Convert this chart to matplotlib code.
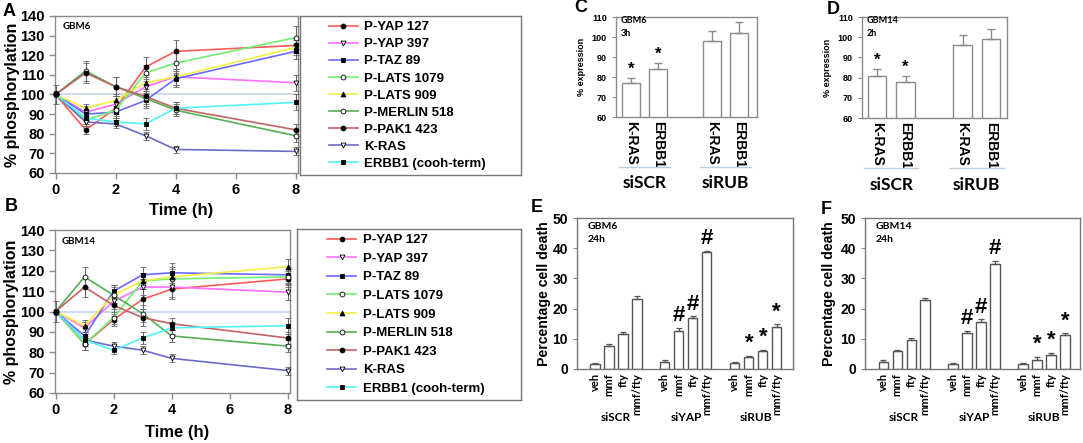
import matplotlib
matplotlib.use("Agg")
import matplotlib.pyplot as plt
import matplotlib.transforms as mtransforms
from matplotlib.lines import Line2D

plt.rcParams['font.family'] = ['Liberation Sans', 'DejaVu Sans']
plt.rcParams['font.weight'] = 'bold'
plt.rcParams['axes.labelweight'] = 'bold'

# ---------------- data ----------------
time_h = [0, 1, 2, 3, 4, 8]
series_labels = ['P-YAP 127', 'P-YAP 397', 'P-TAZ 89', 'P-LATS 1079', 'P-LATS 909',
                 'P-MERLIN 518', 'P-PAK1 423', 'K-RAS', 'ERBB1 (cooh-term)']

# Panel A  (GBM6)
a_yap127 = [100, 82, 93, 114, 122, 125]
a_yap397 = [100, 91, 95, 104, 109, 106]
a_taz89 = [100, 90, 91, 97, 108, 122]
a_lats1079 = [100, 87, 92, 111, 116, 129]
a_lats909 = [100, 93, 97, 106, 109, 124]
a_merlin518 = [100, 112, 104, 98, 92, 79]
a_pak1423 = [100, 111, 104, 99, 93, 82]
a_kras = [100, 86, 85, 79, 72, 71]
a_erbb1 = [100, 88, 86, 85, 93, 96]
a_errors = [[5, 2, 3, 5, 6, 4], [0, 3, 4, 4, 4, 4], [0, 2, 3, 4, 4, 4],
            [0, 2, 3, 4, 5, 6], [0, 2, 3, 4, 4, 4], [0, 5, 5, 4, 3, 3],
            [0, 5, 5, 4, 3, 3], [0, 2, 2, 2, 2, 2], [0, 3, 2, 3, 3, 4]]

# Panel B  (GBM14)
b_yap127 = [100, 84, 96, 106, 111, 116]
b_yap397 = [100, 92, 105, 112, 112, 109.5]
b_taz89 = [100, 88, 110, 118, 119, 118]
b_lats1079 = [100, 84, 97, 115, 116, 117]
b_lats909 = [100, 93, 108, 115, 117, 122]
b_merlin518 = [100, 117, 108, 99, 88, 83]
b_pak1423 = [100, 112, 103, 97, 94, 87]
b_kras = [100, 86, 83, 81, 77, 71]
b_erbb1 = [100, 86, 81, 87, 92, 93]
b_errors = [[5, 3, 3, 5, 5, 4], [0, 3, 4, 4, 5, 4], [0, 2, 3, 4, 5, 4],
            [0, 3, 3, 4, 5, 4], [0, 3, 4, 4, 5, 4], [0, 5, 5, 4, 3, 3],
            [0, 5, 5, 4, 3, 3], [0, 2, 2, 2, 2, 2], [0, 3, 2, 3, 3, 4]]

# Panels C / D  (% expression)
cd_labels = ['K-RAS', 'ERBB1', 'K-RAS', 'ERBB1']
cd_groups = ['siSCR', 'siRUB']
c_values = [77, 84, 98, 102]
c_err = [2.5, 3, 5, 5.5]
c_marks = ['*', '*', '', '']
d_values = [81, 78, 96, 99]
d_err = [3.5, 3, 5, 5]
d_marks = ['*', '*', '', '']

# Panels E / F  (percentage cell death)
ef_labels = ['veh', 'mmf', 'fty', 'mmf/fty'] * 3
ef_groups = ['siSCR', 'siYAP', 'siRUB']
e_values = [1.5, 7.7, 11.6, 23.3, 2.4, 12.7, 16.9, 38.7, 1.9, 3.9, 5.8, 14.0]
e_err = [0.5, 0.6, 0.6, 1.0, 0.5, 1.0, 0.5, 0.5, 0.4, 0.5, 0.5, 0.8]
f_values = [2.4, 5.8, 9.6, 22.9, 1.5, 11.9, 15.4, 34.8, 1.5, 3.1, 4.8, 11.4]
f_err = [0.5, 0.5, 0.6, 0.5, 0.5, 0.8, 1.0, 1.0, 0.4, 0.9, 0.5, 0.5]
ef_marks = ['', '', '', '', '', '#', '#', '#', '', '*', '*', '*']

# ---------------- styles ----------------
colors = ['#ff5a5a', '#ff70ff', '#6a6aff', '#70f070', '#f4f040', '#55b055',
          '#c06464', '#6c6cc8', '#50f5f5']
markers = ['o', 'v', 's', 'o', '^', 'o', 'o', 'v', 's']
mfaces = ['black', 'white', 'black', 'white', 'black', 'white', 'black', 'white', 'black']
SPINE = '#8a8a8a'
CAL = ['Lato', 'DejaVu Sans']

W, H = 1083, 443
fig = plt.figure(figsize=(W / 100, H / 100), dpi=100)


def box(l, t, r, b):
    return [l / W, 1 - b / H, (r - l) / W, (b - t) / H]


def ftext(x, y, s, **kw):
    fig.text(x / W, 1 - y / H, s, **kw)


def style_spines(ax, color=SPINE):
    for sp in ax.spines.values():
        sp.set_color(color)
        sp.set_linewidth(1)


def line_panel(rect, lrect, series, errors, tag, xlabel_y, ylabel_x, lspacing, lx):
    ax = fig.add_axes(box(*rect))
    ax.axhline(100, color='#c9d7ec', lw=1.3, zorder=0)
    for vals, err, col, mk, fc in zip(series, errors, colors, markers, mfaces):
        ax.errorbar(time_h, vals, yerr=err, color=col, lw=1.2, marker=mk, ms=3.5,
                    mfc=fc, mec='black', mew=0.6, ecolor='#666666', elinewidth=0.8,
                    capsize=2, capthick=0.8, clip_on=False, zorder=3)
    ax.set_xlim(-0.02, 8.08)
    ax.set_ylim(60, 140)
    ax.set_xticks([0, 2, 4, 6, 8])
    ax.set_yticks(range(60, 141, 10))
    ax.tick_params(labelsize=10.5, color=SPINE, length=4, width=1)
    style_spines(ax)
    ax.set_ylabel('% phosphorylation', fontsize=11.5)
    ax.yaxis.set_label_coords(ylabel_x, 0.5)
    ax.set_xlabel('Time (h)', fontsize=12)
    ax.xaxis.set_label_coords(0.52, xlabel_y)
    ax.text(0.03, 0.93, tag, transform=ax.transAxes, fontsize=7, family=CAL,
            fontweight='bold', va='center', ha='left')

    lax = fig.add_axes(box(*lrect))
    lax.set_xticks([])
    lax.set_yticks([])
    style_spines(lax, '#777777')
    handles = [Line2D([], [], color=c, lw=1.2, marker=m, ms=3.5, mfc=f, mec='black', mew=0.6)
               for c, m, f in zip(colors, markers, mfaces)]
    lax.legend(handles, series_labels, loc='center left', bbox_to_anchor=(lx, 0.5),
               frameon=False, prop={'size': 9.5, 'weight': 'bold'}, handlelength=2.2,
               handletextpad=0.5, labelspacing=lspacing, borderpad=0, borderaxespad=0)
    return ax


line_panel((55, 16, 298, 173), (300, 16, 521, 175),
           [a_yap127, a_yap397, a_taz89, a_lats1079, a_lats909, a_merlin518, a_pak1423, a_kras, a_erbb1],
           a_errors, 'GBM6', -0.19, -0.145, 0.37, 0.13)
line_panel((55, 230, 290, 393), (297, 229, 521, 400),
           [b_yap127, b_yap397, b_taz89, b_lats1079, b_lats909, b_merlin518, b_pak1423, b_kras, b_erbb1],
           b_errors, 'GBM14', -0.196, -0.155, 0.48, 0.135)


def expr_panel(rect, values, err, marks, tag1, tag2, xlim):
    ax = fig.add_axes(box(*rect))
    pos = [0, 1, 3, 4]
    ax.bar(pos, values, width=0.64, color='white', edgecolor='#8c8c8c', lw=1, zorder=2)
    ax.errorbar(pos, values, yerr=[[0] * len(err), err], fmt='none', ecolor='#8c8c8c',
                elinewidth=1, capsize=3, capthick=1, zorder=3)
    for p, v, e, m in zip(pos, values, err, marks):
        if m:
            ax.text(p, v + e + 0.5, m, ha='center', va='bottom', fontsize=12, fontweight='bold')
    ax.set_xlim(*xlim)
    ax.set_ylim(60, 110)
    ax.set_yticks(range(60, 111, 10))
    ax.set_xticks(pos)
    ax.set_xticklabels(cd_labels, rotation=270, fontsize=10, fontweight='bold')
    ax.tick_params(axis='x', length=0, pad=3)
    ax.tick_params(axis='y', labelsize=6.5, color=SPINE, length=3)
    style_spines(ax)
    ax.set_ylabel('% expression', fontsize=6.5)
    ax.yaxis.set_label_coords(-0.21, 0.5)
    ax.text(0.03, 0.9, tag1 + '\n' + tag2, transform=ax.transAxes, fontsize=6.5, family=CAL,
            fontweight='bold', va='center', ha='left', linespacing=1.5)
    tr = mtransforms.blended_transform_factory(ax.transData, ax.transAxes)
    for g, (p0, p1) in zip(cd_groups, [(0, 1), (3, 4)]):
        ax.plot([p0 - 0.45, p1 + 0.45], [-0.5, -0.5], color='#b8cce6', lw=1,
                transform=tr, clip_on=False)
        ax.text((p0 + p1) / 2, -0.66, g, transform=tr, ha='center', va='center',
                fontsize=12.5, family=CAL, fontweight='bold')
    return ax


expr_panel((616, 17, 757, 117), c_values, c_err, c_marks, 'GBM6', '3h', (-0.56, 4.67))
expr_panel((862, 17, 1007, 118), d_values, d_err, d_marks, 'GBM14', '2h', (-0.53, 4.56))


def death_panel(rect, values, err, tag1, tag2, xlim, ylab_x):
    ax = fig.add_axes(box(*rect))
    pos = [0, 1, 2, 3, 5, 6, 7, 8, 10, 11, 12, 13]
    ax.bar(pos, values, width=0.65, color='white', edgecolor='#555555', lw=1, zorder=2)
    ax.errorbar(pos, values, yerr=[[0] * len(err), err], fmt='none', ecolor='#555555',
                elinewidth=0.9, capsize=2, capthick=0.9, zorder=3)
    for p, v, e, m in zip(pos, values, err, ef_marks):
        if m:
            ax.text(p, v + e + 0.6, m, ha='center', va='bottom', fontsize=16, fontweight='bold')
    ax.set_xlim(*xlim)
    ax.set_ylim(0, 50)
    ax.set_yticks(range(0, 51, 10))
    ax.set_xticks(pos)
    ax.set_xticklabels(ef_labels, rotation=90, fontsize=8, family=CAL, fontweight='bold')
    ax.tick_params(axis='x', length=0, pad=3)
    ax.tick_params(axis='y', labelsize=10, color=SPINE, length=3)
    style_spines(ax, '#777777')
    ax.set_ylabel('Percentage cell death', fontsize=10.2)
    ax.yaxis.set_label_coords(ylab_x, 0.5)
    ax.text(0.05, 0.9, tag1 + '\n' + tag2, transform=ax.transAxes, fontsize=7.5, family=CAL,
            fontweight='bold', va='center', ha='left', linespacing=1.6)
    tr = mtransforms.blended_transform_factory(ax.transData, ax.transAxes)
    for gi, g in enumerate(ef_groups):
        ax.text(5 * gi + 1.5, -0.32, g, transform=tr, ha='center', va='center',
                fontsize=8.5, family=CAL, fontweight='bold')
    return ax


death_panel((577, 218, 793, 369), e_values, e_err, 'GBM6', '24h', (-1.29, 14.16), -0.12)
death_panel((865, 218, 1080, 369), f_values, f_err, 'GBM14', '24h', (-1.29, 14.07), -0.135)

# panel letters
for letter, x, y in [('A', 9, 12), ('B', 11, 207), ('C', 581, 8), ('D', 833, 9),
                     ('E', 537, 208), ('F', 826, 209)]:
    ftext(x, y, letter, fontsize=13, fontweight='bold', ha='center', va='center')

fig.savefig('out.png', dpi=100)
